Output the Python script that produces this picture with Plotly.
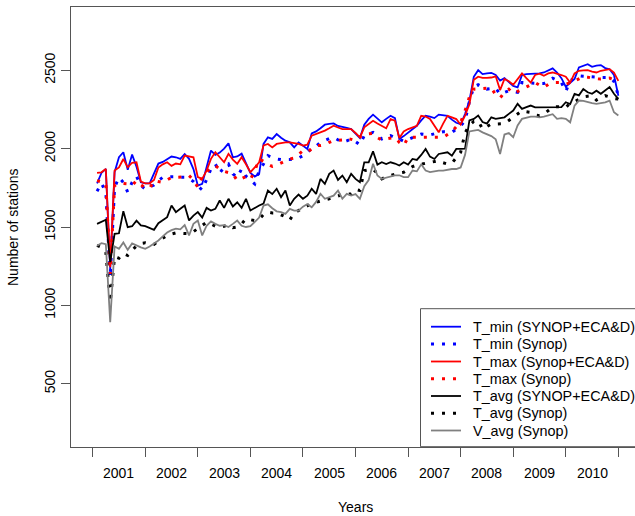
import plotly.graph_objects as go

# month index (1 = Feb 2001 ... 120 = Jan 2011 on the year scale, ticks every 12)
months = list(range(1, 121))
year_labels = ["2001", "2002", "2003", "2004", "2005", "2006", "2007", "2008", "2009", "2010"]
year_label_pos = [6, 18, 30, 42, 54, 66, 78, 90, 102, 114]
year_ticks = [0, 12, 24, 36, 48, 60, 72, 84, 96, 108, 120]
y_ticks = [500, 1000, 1500, 2000, 2500]

tmin_full = [
    1779, 1845, 1870, 1230, 1850, 1945, 1977, 1865, 1962, 1885, 1785, 1779,
    1779, 1840, 1905, 1915, 1930, 1950, 1945, 1935, 1966, 1935, 1870, 1765,
    1775, 1880, 1988, 1960, 1975, 2000, 2034, 1945, 1950, 1968, 1902, 1845,
    1822, 1839, 2030, 2072, 2062, 2093, 2070, 2051, 2040, 2008, 2040, 2020,
    1998, 2098, 2110, 2130, 2153, 2158, 2161, 2145, 2136, 2132, 2125, 2095,
    2068, 2153, 2190, 2217, 2195, 2168, 2190, 2210, 2195, 2062, 2080, 2104,
    2125, 2146, 2180, 2210, 2205, 2195, 2217, 2212, 2210, 2185, 2165, 2157,
    2221, 2306, 2459, 2501, 2476, 2480, 2484, 2470, 2435, 2450, 2422, 2400,
    2391, 2470, 2476, 2476, 2478, 2480, 2486, 2500, 2512, 2486, 2450, 2395,
    2420, 2444, 2518, 2530, 2539, 2522, 2530, 2533, 2514, 2507, 2470, 2338,
]
tmin_synop = [
    1728, 1779, 1722, 1178, 1754, 1817, 1785, 1722, 1785, 1824, 1764, 1743,
    1755, 1768, 1796, 1817, 1820, 1822, 1820, 1817, 1817, 1810, 1790, 1760,
    1737, 1803, 1870, 1902, 1845, 1880, 1902, 1839, 1817, 1870, 1824, 1800,
    1775, 1860, 1902, 1955, 1945, 1934, 1930, 1928, 1930, 1934, 1940, 1955,
    1970, 2008, 2015, 2040, 2055, 2065, 2072, 2055, 2040, 2050, 2062, 2045,
    2025, 2083, 2095, 2104, 2085, 2062, 2075, 2083, 2070, 2062, 2047, 2060,
    2072, 2082, 2093, 2090, 2087, 2095, 2100, 2108, 2106, 2104, 2125, 2146,
    2178, 2300, 2395, 2408, 2395, 2380, 2383, 2386, 2348, 2360, 2369, 2365,
    2359, 2422, 2420, 2416, 2416, 2416, 2416, 2430, 2450, 2435, 2422, 2365,
    2433, 2450, 2465, 2462, 2459, 2457, 2455, 2454, 2454, 2454, 2430, 2338,
]
tmax_full = [
    1846, 1849, 1871, 1244, 1860, 1880, 1934, 1881, 1910, 1913, 1790, 1779,
    1779, 1800, 1880, 1900, 1913, 1890, 1905, 1900, 1956, 1950, 1945, 1818,
    1807, 1860, 1935, 1977, 1945, 1913, 1967, 1930, 1903, 1945, 1900, 1850,
    1880, 1913, 2020, 2030, 2008, 2030, 2035, 2040, 2040, 2035, 2030, 2019,
    2025, 2083, 2093, 2100, 2115, 2130, 2146, 2135, 2125, 2125, 2125, 2100,
    2072, 2136, 2160, 2178, 2160, 2146, 2130, 2189, 2178, 2068, 2110, 2125,
    2135, 2146, 2210, 2205, 2189, 2150, 2104, 2160, 2210, 2200, 2189, 2153,
    2210, 2284, 2440, 2459, 2452, 2452, 2454, 2462, 2374, 2445, 2430, 2408,
    2445, 2480, 2450, 2422, 2470, 2478, 2465, 2480, 2486, 2480, 2470, 2459,
    2422, 2480, 2497, 2500, 2501, 2492, 2486, 2497, 2502, 2507, 2486, 2433,
]
tmax_synop = [
    1796, 1785, 1779, 1200, 1764, 1779, 1777, 1775, 1764, 1796, 1770, 1750,
    1747, 1796, 1790, 1785, 1800, 1817, 1817, 1817, 1820, 1828, 1800, 1754,
    1817, 1850, 1880, 1892, 1870, 1855, 1849, 1839, 1796, 1810, 1822, 1803,
    1860, 1934, 1920, 1900, 1887, 1895, 1907, 1920, 1934, 1940, 1965, 1987,
    1977, 2000, 2019, 2020, 2025, 2040, 2051, 2053, 2055, 2068, 2060, 2051,
    2075, 2093, 2095, 2098, 2070, 2055, 2062, 2068, 2072, 2040, 2019, 2072,
    2072, 2072, 2072, 2072, 2072, 2072, 2072, 2072, 2090, 2108, 2140, 2168,
    2242, 2330, 2380, 2383, 2386, 2386, 2386, 2344, 2323, 2360, 2380, 2352,
    2365, 2378, 2391, 2405, 2422, 2405, 2391, 2410, 2422, 2422, 2422, 2412,
    2420, 2433, 2445, 2459, 2456, 2450, 2446, 2444, 2447, 2450, 2440, 2433,
]
tavg_full = [
    1520, 1531, 1546, 1276, 1457, 1460, 1601, 1499, 1505, 1541, 1510, 1505,
    1495, 1482, 1524, 1545, 1563, 1637, 1595, 1616, 1637, 1542, 1573, 1595,
    1560, 1622, 1605, 1616, 1669, 1622, 1680, 1631, 1658, 1622, 1680, 1605,
    1622, 1637, 1650, 1733, 1710, 1744, 1690, 1733, 1637, 1680, 1707, 1680,
    1700, 1744, 1711, 1807, 1775, 1839, 1860, 1800, 1828, 1786, 1839, 1807,
    1786, 1913, 1913, 1983, 1898, 1913, 1902, 1913, 1905, 1892, 1913, 1898,
    1934, 1928, 1960, 1998, 1949, 1934, 1966, 1970, 1977, 1955, 1998, 1998,
    2000, 2180, 2190, 2211, 2170, 2160, 2200, 2190, 2195, 2200, 2222, 2243,
    2286, 2254, 2265, 2275, 2264, 2264, 2264, 2265, 2265, 2265, 2265, 2296,
    2285, 2350, 2340, 2381, 2360, 2350, 2370, 2350, 2370, 2393, 2350, 2318,
]
tavg_synop = [
    1382, 1370, 1340, 1020, 1310, 1301, 1331, 1318, 1350, 1380, 1395, 1399,
    1392, 1389, 1410, 1430, 1446, 1455, 1462, 1460, 1457, 1457, 1470, 1490,
    1505, 1530, 1520, 1505, 1500, 1505, 1515, 1495, 1500, 1520, 1552, 1545,
    1541, 1550, 1580, 1595, 1590, 1590, 1578, 1565, 1545, 1590, 1605, 1620,
    1630, 1650, 1658, 1668, 1673, 1680, 1690, 1700, 1707, 1710, 1711, 1740,
    1733, 1860, 1865, 1870, 1840, 1807, 1820, 1830, 1839, 1845, 1849, 1865,
    1885, 1895, 1902, 1908, 1913, 1918, 1924, 1910, 1902, 1907, 1940, 1977,
    2100, 2150, 2174, 2178, 2125, 2140, 2157, 2157, 2157, 2160, 2180, 2200,
    2220, 2242, 2235, 2231, 2215, 2210, 2221, 2245, 2265, 2268, 2265, 2263,
    2290, 2300, 2316, 2331, 2335, 2338, 2310, 2325, 2338, 2330, 2320, 2316,
]
vavg_synop = [
    1380, 1397, 1390, 893, 1376, 1361, 1401, 1354, 1395, 1380, 1370, 1361,
    1375, 1395, 1414, 1440, 1465, 1480, 1490, 1485, 1512, 1446, 1520, 1541,
    1446, 1508, 1536, 1520, 1508, 1512, 1500, 1520, 1541, 1508, 1500, 1505,
    1530, 1560, 1637, 1645, 1620, 1600, 1595, 1584, 1616, 1605, 1605, 1630,
    1647, 1626, 1660, 1712, 1680, 1690, 1700, 1733, 1680, 1711, 1700, 1710,
    1680, 1760, 1800, 1903, 1829, 1807, 1815, 1825, 1829, 1830, 1818, 1818,
    1860, 1855, 1900, 1860, 1850, 1855, 1860, 1860, 1865, 1870, 1870, 1880,
    1960, 2110, 2115, 2120, 2104, 2090, 2080, 2060, 1966, 2090, 2100, 2073,
    2148, 2190, 2200, 2205, 2205, 2200, 2205, 2215, 2220, 2190, 2195, 2190,
    2168, 2275, 2307, 2305, 2296, 2290, 2286, 2292, 2296, 2307, 2232, 2211,
]

series_names = [
    "T_min (SYNOP+ECA&D)", "T_min (Synop)", "T_max (Synop+ECA&D)", "T_max (Synop)",
    "T_avg (SYNOP+ECA&D)", "T_avg (Synop)", "V_avg (Synop)",
]
series_values = [tmin_full, tmin_synop, tmax_full, tmax_synop, tavg_full, tavg_synop, vavg_synop]
series_colors = ["#0000FF", "#0000FF", "#FF0000", "#FF0000", "#000000", "#000000", "#808080"]
DOT = "3px,8px"
series_dash = ["solid", DOT, "solid", DOT, "solid", DOT, "solid"]
series_width = [1.8, 3, 1.8, 3, 1.8, 3, 1.8]

FONT = "Liberation Sans, Arial, sans-serif"
W, H = 635, 516
L, T, B = 71, 7, 69
PW = W - L
PH = H - T - B
AX = "#555555"


def px_x(p):
    return (p - L) / PW


def px_y(p):
    return (H - B - p) / PH


fig = go.Figure()
for name, vals, col, dash, wd in zip(series_names, series_values, series_colors, series_dash, series_width):
    fig.add_trace(go.Scatter(
        x=months, y=vals, mode="lines", name=name,
        line=dict(color=col, width=wd, dash=dash),
        showlegend=False, hoverinfo="skip",
    ))

annotations = []
for pos, lab in zip(year_label_pos, year_labels):
    annotations.append(dict(
        x=pos, y=px_y(473), xref="x", yref="paper", text=lab, showarrow=False,
        xanchor="center", yanchor="middle", font=dict(family=FONT, size=14, color="#000"),
    ))
annotations.append(dict(
    x=px_x(355), y=px_y(507), xref="paper", yref="paper", text="Years", showarrow=False,
    xanchor="center", yanchor="middle", font=dict(family=FONT, size=14, color="#000"),
))
annotations.append(dict(
    x=px_x(13), y=0.5, xref="paper", yref="paper", text="Number of stations", showarrow=False,
    textangle=-90, xanchor="center", yanchor="middle", font=dict(family=FONT, size=14, color="#000"),
))

shapes = []
# legend box
shapes.append(dict(type="rect", xref="paper", yref="paper",
                   x0=px_x(420.5), x1=px_x(660), y0=px_y(446.7), y1=px_y(308.7),
                   line=dict(color=AX, width=1), fillcolor="white", layer="above"))
row_y = [326.7, 344.0, 361.5, 378.7, 396.0, 413.2, 430.5]
for name, col, dash, wd, ry in zip(series_names, series_colors, series_dash, series_width, row_y):
    shapes.append(dict(type="line", xref="paper", yref="paper",
                       x0=px_x(431), x1=px_x(461), y0=px_y(ry), y1=px_y(ry),
                       line=dict(color=col, width=wd, dash=dash), layer="above"))
    annotations.append(dict(
        x=px_x(471), y=px_y(ry), xref="paper", yref="paper", text=name, showarrow=False,
        xanchor="left", yanchor="middle", font=dict(family=FONT, size=14.4, color="#000"),
    ))

fig.update_layout(
    width=W, height=H,
    margin=dict(l=L, r=0, t=T, b=B, pad=0),
    paper_bgcolor="white", plot_bgcolor="white",
    font=dict(family=FONT, size=14, color="#000"),
    xaxis=dict(
        range=[-4.95, 123.8], tickvals=year_ticks, ticktext=[""] * len(year_ticks),
        ticks="outside", ticklen=9, tickcolor=AX, tickwidth=1,
        showgrid=False, zeroline=False, showline=True, linecolor=AX, linewidth=1, mirror=True,
    ),
    yaxis=dict(
        range=[96, 2904], tickvals=y_ticks, ticktext=[str(v) for v in y_ticks],
        ticks="outside", ticklen=9, tickcolor=AX, tickwidth=1, tickangle=-90,
        tickfont=dict(family=FONT, size=14, color="#000"),
        showgrid=False, zeroline=False, showline=True, linecolor=AX, linewidth=1, mirror=False,
    ),
    annotations=annotations,
    shapes=shapes,
)

fig.write_html("out.html")
